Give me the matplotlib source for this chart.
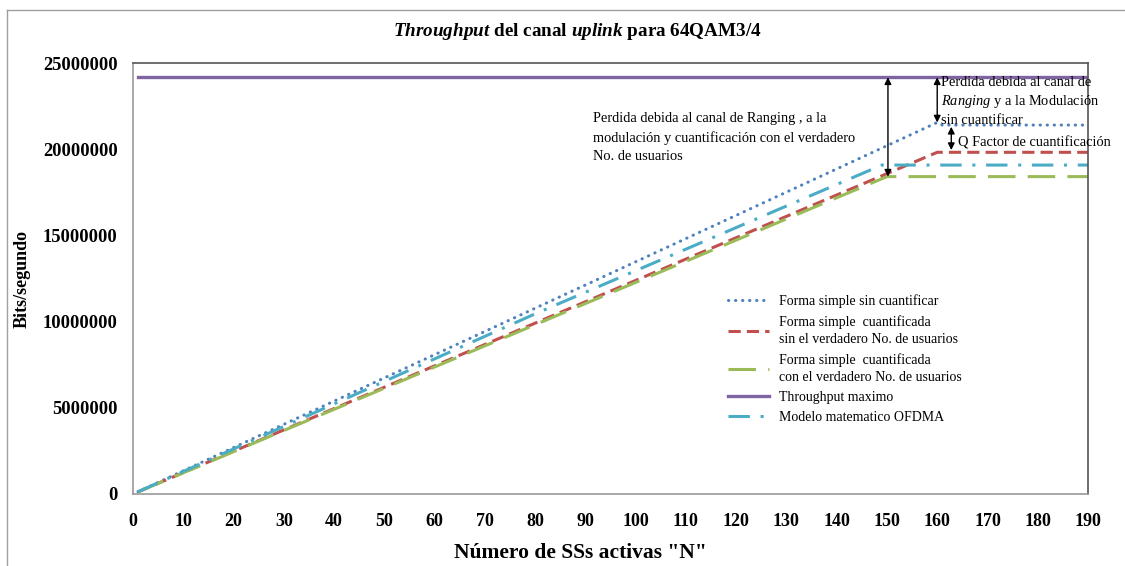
import matplotlib
matplotlib.use("Agg")
import matplotlib.pyplot as plt
from matplotlib.lines import Line2D

plt.rcParams['font.family'] = ['Liberation Serif', 'DejaVu Serif']
plt.rcParams['mathtext.fontset'] = 'custom'
plt.rcParams['mathtext.rm'] = 'Liberation Serif'
plt.rcParams['mathtext.it'] = 'Liberation Serif:italic'
plt.rcParams['mathtext.bf'] = 'Liberation Serif:bold'
plt.rcParams['mathtext.bfit'] = 'Liberation Serif:italic:bold'

# ---- data ----
n_blue = [1, 160, 161, 190]
v_blue = [134000, 21550000, 21400000, 21400000]
n_red = [1, 160, 190]
v_red = [124000, 19820000, 19820000]
n_green = [1, 150, 190]
v_green = [123000, 18410000, 18410000]
n_purple = [1, 190]
v_purple = [24170000, 24170000]
n_cyan = [1, 80, 149, 190]
v_cyan = [130000, 10450000, 19080000, 19080000]

labels = ["Forma simple sin cuantificar",
          "Forma simple  cuantificada\nsin el verdadero No. de usuarios",
          "Forma simple  cuantificada\ncon el verdadero No. de usuarios",
          "Throughput maximo",
          "Modelo matematico OFDMA"]

x_ticks = list(range(0, 191, 10))
y_ticks = [0, 5000000, 10000000, 15000000, 20000000, 25000000]
y_tick_labels = ["0", "5000000", "10000000", "15000000", "20000000", "25000000"]

W, H = 1125, 566
fig = plt.figure(figsize=(W / 100, H / 100), dpi=100)
ax = fig.add_axes([133 / W, 1 - 494 / H, (1088 - 133) / W, (494 - 63) / H])

ax.plot(n_blue, v_blue, color='#4F81BD', lw=2.2, linestyle=(0, (0.1, 2.2)),
        dash_capstyle='round', label=labels[0])
ax.plot(n_red, v_red, color='#C0504D', lw=2.2, linestyle=(0, (4.0, 2.0)), label=labels[1])
ax.plot(n_green, v_green, color='#9BBB59', lw=2.2, linestyle=(0, (9.0, 4.0)), label=labels[2])
ax.plot(n_purple, v_purple, color='#8064A2', lw=2.4, linestyle='-', label=labels[3])
ax.plot(n_cyan, v_cyan, color='#4BACC6', lw=2.2, linestyle=(0, (7.0, 3.5, 1.0, 3.5)), label=labels[4])

ax.set_xlim(0, 190)
ax.set_ylim(0, 25000000)
ax.set_xticks(x_ticks)
ax.set_xticklabels([str(t) for t in x_ticks], fontsize=13, fontweight='bold')
ax.set_yticks(y_ticks)
ax.set_yticklabels(y_tick_labels, fontsize=13.3, fontweight='bold')
ax.tick_params(axis='both', length=0)
ax.tick_params(axis='y', pad=11)
ax.tick_params(axis='x', pad=14)
for s in ['left', 'bottom']:
    ax.spines[s].set_color('#9A9A9A')
    ax.spines[s].set_linewidth(1.2)
for s in ['top', 'right']:
    ax.spines[s].set_color('#555555')
    ax.spines[s].set_linewidth(1.2)

ax.set_xlabel('Número de SSs activas "N"', fontsize=15.5, fontweight='bold')
ax.xaxis.set_label_coords((580 - 133) / 955, -(553 - 494) / 431)
ax.xaxis.label.set_va('center')
ax.set_ylabel('Bits/segundo', fontsize=13, fontweight='bold')
ax.yaxis.set_label_coords(-(133 - 22) / 955, 0.5)
ax.yaxis.label.set_va('center')

# title
fig.text(577 / W, 1 - 32 / H, r"$\mathbfit{Throughput}$ del canal $\mathbfit{uplink}$ para 64QAM3/4",
         ha='center', va='center', fontsize=13.8, fontweight='bold')

# arrows
arrowprops = dict(arrowstyle='<|-|>', color='black', lw=1.0, mutation_scale=10, shrinkA=0, shrinkB=0)
ax.annotate('', xy=(150.2, v_purple[0]), xytext=(150.2, v_green[1]), arrowprops=arrowprops)
ax.annotate('', xy=(160, v_purple[0]), xytext=(160, v_blue[1]), arrowprops=arrowprops)
ax.annotate('', xy=(162.8, 21300000), xytext=(162.8, 19950000), arrowprops=arrowprops)

# annotation texts
fig.text(593 / W, 1 - 112 / H,
         "Perdida debida al canal de Ranging , a la\nmodulación y cuantificación con el verdadero\nNo. de usuarios",
         ha='left', va='top', fontsize=10.4, linespacing=1.55)
fig.text(941 / W, 1 - 83 / H, "Perdida debida al canal de", ha='left', va='center', fontsize=10.4)
fig.text(941 / W, 1 - 102 / H, r"$\mathit{Ranging}$ y a la Modulación", ha='left', va='center', fontsize=10.4)
fig.text(941 / W, 1 - 120 / H, "sin cuantificar", ha='left', va='center', fontsize=10.4)
fig.text(958 / W, 1 - 143 / H, "Q Factor de cuantificación", ha='left', va='center', fontsize=10.4)

# legend
leg = ax.legend(loc='upper left', bbox_to_anchor=(722 / W, 1 - 289 / H), bbox_transform=fig.transFigure,
                frameon=False, fontsize=10, handlelength=3.0, handletextpad=0.7, labelspacing=0.5,
                borderaxespad=0)
for t in leg.get_texts():
    t.set_linespacing(1.4)

# outer chart border
fig.add_artist(Line2D([7 / W, 7 / W], [0, 1 - 10 / H], transform=fig.transFigure, color='#A0A0A0', lw=1.0))
fig.add_artist(Line2D([7 / W, 1], [1 - 10 / H, 1 - 10 / H], transform=fig.transFigure, color='#A0A0A0', lw=1.0))

fig.savefig('out.png', dpi=100)
